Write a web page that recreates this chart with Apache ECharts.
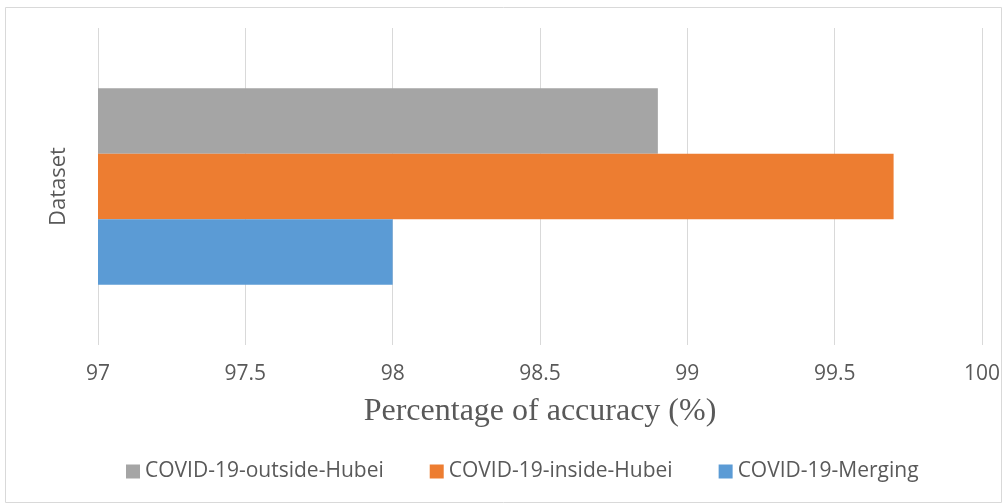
<!DOCTYPE html>
<html><head><meta charset="utf-8">
<script src="https://cdn.jsdelivr.net/npm/echarts@6/dist/echarts.min.js"></script>
<style>html,body{margin:0;padding:0;background:#fff}#c{width:1007px;height:503px}</style>
</head><body><div id="c"></div>
<script>
const categories = ['Dataset'];
const seriesNames = ['COVID-19-outside-Hubei', 'COVID-19-inside-Hubei', 'COVID-19-Merging'];
const outsideHubei = [98.9];
const insideHubei = [99.7];
const merging = [98.0];
const colors = ['#a5a5a5', '#ed7d31', '#5b9bd5'];
const values = [outsideHubei, insideHubei, merging];

const chart = echarts.init(document.getElementById('c'));
const sans = '"Open Sans", sans-serif';
chart.setOption({
  animation: false,
  graphic: [{type: 'rect', shape: {x: 5.5, y: 7.5, width: 996, height: 495}, style: {fill: 'none', stroke: '#d9d9d9', lineWidth: 1}}],
  grid: {left: 98, right: 25, top: 28, bottom: 158, containLabel: false},
  legend: {
    data: seriesNames, top: 456, left: 121, itemWidth: 14, itemHeight: 14, itemGap: 46, icon: 'rect',
    textStyle: {fontFamily: sans, fontSize: 21, color: '#595959'}
  },
  xAxis: {
    type: 'value', min: 97, max: 100, interval: 0.5,
    axisLine: {show: false}, axisTick: {show: false},
    splitLine: {lineStyle: {color: '#d9d9d9', width: 1}},
    axisLabel: {fontFamily: sans, fontSize: 21, color: '#595959', margin: 19},
    name: 'Percentage of accuracy (%)', nameLocation: 'middle', nameGap: 51,
    nameTextStyle: {fontFamily: '"Liberation Serif", serif', fontSize: 32, color: '#595959'}
  },
  yAxis: {
    type: 'category', data: categories,
    axisLine: {show: false}, axisTick: {show: false}, axisLabel: {show: false},
    name: 'Dataset', nameLocation: 'middle', nameGap: 28, nameRotate: 90,
    nameTextStyle: {fontFamily: sans, fontSize: 22, color: '#595959'}
  },
  series: seriesNames.map((n, i) => ({
    name: n, type: 'bar', data: values[i], barGap: '0%', barCategoryGap: '38%',
    itemStyle: {color: colors[i]}
  }))
});
</script></body></html>
